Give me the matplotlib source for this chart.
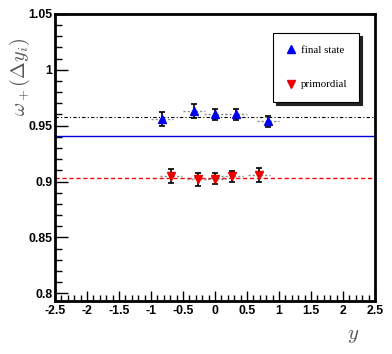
import matplotlib
matplotlib.use("Agg")
import matplotlib.pyplot as plt
from matplotlib.ticker import MultipleLocator
from matplotlib.lines import Line2D

plt.rcParams["mathtext.fontset"] = "cm"

# data
fs_x = [-0.83, -0.33, 0.0, 0.33, 0.83]
fs_y = [0.956, 0.963, 0.960, 0.960, 0.954]
fs_err = [0.006, 0.006, 0.005, 0.005, 0.005]
pr_x = [-0.69, -0.26, 0.0, 0.26, 0.69]
pr_y = [0.905, 0.902, 0.9025, 0.9045, 0.906]
pr_err = [0.006, 0.006, 0.005, 0.005, 0.006]
xhalf = 0.17
fs_fit = 0.9575
pr_fit = 0.9035
ref_line = 0.941
xticks = [-2.5, -2, -1.5, -1, -0.5, 0, 0.5, 1, 1.5, 2, 2.5]
xticklabels = ["-2.5", "-2", "-1.5", "-1", "-0.5", "0", "0.5", "1", "1.5", "2", "2.5"]
yticks = [0.8, 0.85, 0.9, 0.95, 1.0, 1.05]
yticklabels = ["0.8", "0.85", "0.9", "0.95", "1", "1.05"]

fig = plt.figure(figsize=(3.92, 3.54), dpi=100)
ax = fig.add_axes([0.1403, 0.1497, 0.8163, 0.8108])
ax.set_xlim(-2.5, 2.5)
ax.set_ylim(0.793, 1.05)

ax.axhline(ref_line, color="#0000dd", lw=1.0)
ax.axhline(fs_fit, color="black", lw=0.8, ls=(0, (3, 2, 1, 2)))
ax.axhline(pr_fit, color="red", lw=1.0, ls=(0, (3, 2)))

for xs, ys in [(fs_x, fs_y), (pr_x, pr_y)]:
    eb = ax.errorbar(xs, ys, xerr=xhalf, fmt="none", ecolor="#888888", elinewidth=1.0, zorder=3)
    for c in eb[2]:
        c.set_linestyle((0, (1.5, 1.5)))

ax.errorbar(fs_x, fs_y, yerr=fs_err, fmt="^", color="#0000ee", ms=6,
            ecolor="black", elinewidth=1.2, capsize=2.5, capthick=1.2, zorder=5)
ax.errorbar(pr_x, pr_y, yerr=pr_err, fmt="v", color="#ee0000", ms=6,
            ecolor="black", elinewidth=1.2, capsize=2.5, capthick=1.2, zorder=5)

ax.xaxis.set_minor_locator(MultipleLocator(0.1))
ax.yaxis.set_minor_locator(MultipleLocator(0.01))
ax.tick_params(which="both", direction="in", top=False, right=False, width=1.0)
ax.tick_params(axis="y", which="major", length=9)
ax.tick_params(axis="y", which="minor", length=5)
ax.tick_params(axis="x", which="major", length=7)
ax.tick_params(axis="x", which="minor", length=4)
for s in ax.spines.values():
    s.set_linewidth(2.0)

ax.set_xticks(xticks)
ax.set_xticklabels(xticklabels)
ax.set_yticks(yticks)
ax.set_yticklabels(yticklabels)
for lab in ax.get_xticklabels() + ax.get_yticklabels():
    lab.set_fontfamily("Liberation Sans")
    lab.set_fontweight("bold")
    lab.set_fontsize(8.8)
ax.tick_params(axis="x", pad=3)
ax.tick_params(axis="y", pad=2)

fig.text(0.052, 0.782, r"$\omega_+(\Delta y_i)$", rotation=90, fontsize=14.5,
         color="#555555", ha="center", va="center")
fig.text(0.90, 0.053, r"$y$", fontsize=15, color="#555555", ha="center", va="center")

handles = [Line2D([], [], marker="^", color="#0000ee", ls="none", ms=6),
           Line2D([], [], marker="v", color="#ee0000", ls="none", ms=6)]
leg = ax.legend(handles, ["final state", "primordial"], loc="upper left",
                bbox_to_anchor=(0.681, 0.934), frameon=True, fancybox=False,
                shadow={"color": "#222222", "alpha": 1.0}, edgecolor="black",
                labelspacing=2.3, handletextpad=0.4, handlelength=1.0,
                borderpad=1.15, borderaxespad=0.0,
                prop={"family": "Liberation Serif", "size": 7.8})
leg.get_frame().set_linewidth(0.8)

fig.savefig("out.png", dpi=100)
